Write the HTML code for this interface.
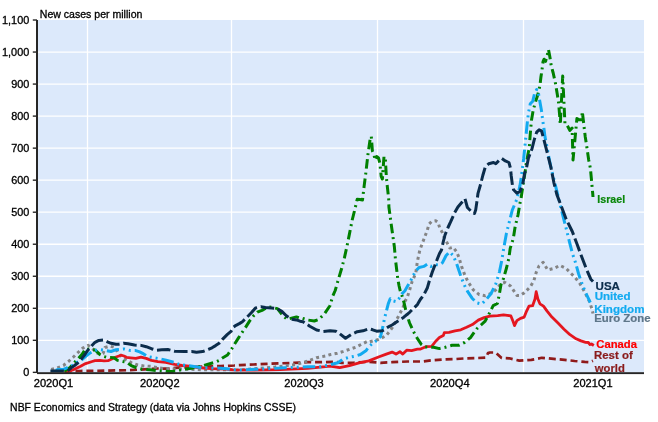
<!DOCTYPE html>
<html><head><meta charset="utf-8"><style>
html,body{margin:0;padding:0;background:#fff;}
svg{display:block;}
</style></head><body>
<svg width="658" height="422" viewBox="0 0 658 422">
<rect x="0" y="0" width="658" height="422" fill="#ffffff"/>
<rect x="38" y="20" width="606" height="352.5" fill="#dce9fb"/>
<g stroke="#ffffff" stroke-width="1.3"><line x1="38" y1="340.32" x2="644" y2="340.32"/><line x1="38" y1="308.29" x2="644" y2="308.29"/><line x1="38" y1="276.26" x2="644" y2="276.26"/><line x1="38" y1="244.23" x2="644" y2="244.23"/><line x1="38" y1="212.20" x2="644" y2="212.20"/><line x1="38" y1="180.17" x2="644" y2="180.17"/><line x1="38" y1="148.14" x2="644" y2="148.14"/><line x1="38" y1="116.11" x2="644" y2="116.11"/><line x1="38" y1="84.08" x2="644" y2="84.08"/><line x1="38" y1="52.05" x2="644" y2="52.05"/><line x1="87.5" y1="20" x2="87.5" y2="372"/><line x1="231.5" y1="20" x2="231.5" y2="372"/><line x1="377.5" y1="20" x2="377.5" y2="372"/><line x1="523.5" y1="20" x2="523.5" y2="372"/></g>
<g fill="none" stroke-linejoin="round">
<path d="M64.6 371.3 L80.0 371.0 L98.0 370.8 L128.0 370.2 L147.5 369.2 L157.9 368.5 L169.0 368.6 L180.7 367.4 L202.6 366.7 L220.8 366.1 L234.2 365.5 L240.0 365.1 L253.5 364.5 L267.0 363.8 L280.5 363.3 L294.0 362.9 L307.6 362.2 L321.0 362.2 L334.6 361.8 L341.7 362.8 L353.3 362.8 L368.8 361.8 L380.5 362.8 L392.1 362.2 L407.7 361.5 L422.9 361.5 L431.7 360.3 L443.3 359.5 L455.0 359.1 L466.6 358.3 L478.3 358.0 L486.0 357.6 L488.0 353.1 L489.9 352.5 L495.7 352.5 L501.6 358.0 L509.3 358.3 L516.1 359.9 L519.3 360.6 L531.4 359.9 L541.8 357.8 L547.0 358.2 L553.7 358.9 L564.6 359.8 L574.6 361.0 L584.7 361.9 L590.1 362.2 L592.9 360.8" stroke="#8f1a1a" stroke-width="2.7" stroke-dasharray="7 3.9"/>
<path d="M51.2 369.5 L57.3 367.9 L63.4 365.5 L68.3 361.6 L73.1 357.3 L78.0 352.5 L82.7 348.2 L88.2 345.3 L92.2 348.5 L97.4 353.2 L101.0 354.5 L103.1 353.5 L105.0 347.5 L110.0 346.1 L114.9 347.5 L117.8 352.7 L122.0 357.6 L131.9 363.0 L137.7 365.0 L143.6 365.9 L150.8 366.3 L157.3 367.6 L163.8 368.5 L175.0 369.0 L190.4 369.2 L202.6 369.8 L230.5 369.8 L240.0 370.0 L251.3 369.0 L275.0 367.0 L296.3 364.5 L307.6 361.1 L316.6 357.7 L325.6 356.0 L330.6 354.5 L337.3 353.2 L343.4 351.4 L349.5 349.3 L355.8 347.2 L361.9 344.1 L367.4 341.4 L368.8 342.0 L378.5 339.5 L386.3 335.6 L392.1 327.9 L397.0 319.1 L399.9 313.3 L402.8 308.4 L404.8 301.7 L407.3 297.2 L409.6 290.0 L412.0 281.8 L415.8 273.0 L417.4 261.4 L419.9 249.8 L422.4 243.2 L424.9 236.5 L427.4 229.9 L429.0 224.1 L431.5 221.6 L435.7 220.8 L438.1 222.4 L439.8 228.2 L442.3 232.4 L444.0 237.0 L446.4 241.5 L449.8 248.1 L453.1 247.3 L456.4 251.5 L458.9 257.3 L461.5 266.2 L465.0 275.7 L468.6 282.8 L473.3 289.9 L479.2 294.6 L485.2 295.8 L491.1 293.5 L495.8 289.9 L501.0 283.5 L505.0 282.5 L510.5 286.0 L516.9 295.4 L520.0 295.5 L524.2 292.9 L530.2 286.9 L533.8 280.9 L536.2 272.4 L539.0 266.0 L543.1 262.3 L547.7 270.0 L553.8 268.5 L560.0 265.4 L566.2 268.5 L570.0 272.4 L574.9 277.2 L579.7 283.3 L584.5 291.7 L589.4 301.4 L591.8 308.6 L593.0 313.5" stroke="#848484" stroke-width="3" stroke-dasharray="3 3.3"/>
<path d="M64.6 372.0 L66.1 371.6 L68.9 371.2 L72.8 370.0 L76.5 368.2 L80.6 366.2 L85.6 363.6 L92.2 361.5 L95.0 360.6 L99.8 360.4 L104.0 360.8 L108.0 360.7 L111.8 359.0 L116.1 357.0 L121.0 355.2 L124.0 356.0 L126.5 357.3 L130.6 357.8 L135.8 358.4 L141.0 357.1 L146.2 358.4 L151.4 360.4 L157.9 361.7 L165.8 362.3 L174.6 364.3 L181.9 365.5 L189.2 366.1 L196.5 367.4 L203.8 368.0 L211.1 368.6 L218.4 368.9 L225.7 369.2 L233.0 369.8 L250.0 370.2 L280.0 369.6 L307.6 368.3 L325.6 366.7 L330.0 366.1 L339.7 367.7 L349.4 365.7 L359.1 362.8 L368.8 360.9 L378.5 357.0 L386.3 354.1 L392.1 352.1 L396.0 354.1 L399.9 351.7 L402.8 354.1 L406.7 350.2 L411.6 350.6 L417.4 349.2 L420.0 349.2 L425.8 346.7 L431.7 346.3 L435.5 341.5 L439.4 337.6 L443.3 335.6 L444.3 332.7 L449.1 332.3 L455.0 330.8 L460.8 329.8 L466.6 327.3 L472.4 324.6 L478.3 320.1 L484.1 317.6 L489.9 316.2 L497.7 315.6 L503.5 314.9 L507.2 315.4 L510.9 315.9 L513.3 322.0 L514.5 325.6 L516.9 320.7 L520.5 318.3 L524.2 317.1 L526.6 311.1 L529.0 306.2 L532.6 305.7 L535.0 299.0 L536.2 291.7 L537.9 299.0 L539.9 303.8 L543.5 306.2 L547.1 311.1 L551.9 317.1 L558.0 323.1 L564.0 329.2 L570.0 334.7 L576.1 338.8 L581.0 340.9 L585.6 342.3 L588.3 342.5 L590.0 344.5 L591.5 344.0 L593.8 345.5" stroke="#e4161f" stroke-width="2.8"/>
<path d="M64.3 371.3 L70.0 367.5 L75.9 361.0 L78.3 358.5 L82.3 354.1 L85.6 348.6 L89.4 349.3 L95.0 349.9 L99.8 354.4 L103.6 356.5 L107.4 357.5 L114.0 357.7 L117.5 360.4 L121.5 361.3 L126.7 362.3 L131.2 365.6 L137.1 368.0 L142.3 369.2 L150.1 369.8 L159.2 370.8 L168.4 371.5 L172.2 371.6 L184.3 369.2 L191.6 368.2 L198.9 366.7 L203.8 365.5 L209.8 363.7 L215.9 361.9 L219.0 360.5 L222.0 358.2 L227.5 355.0 L231.0 350.0 L234.6 344.0 L238.2 338.4 L241.8 332.9 L245.4 327.6 L249.5 321.1 L253.7 315.7 L257.3 312.2 L262.0 310.4 L267.9 306.8 L272.0 307.4 L277.4 308.6 L282.1 314.5 L286.9 319.3 L291.6 318.1 L296.4 316.9 L300.0 318.1 L300.8 317.8 L307.6 320.0 L314.3 321.0 L318.8 319.4 L324.5 313.8 L330.1 305.5 L332.6 296.5 L335.2 290.5 L337.8 281.4 L341.7 268.3 L344.4 257.9 L347.0 246.1 L349.6 233.1 L352.2 220.0 L354.8 209.6 L357.2 199.3 L360.0 199.5 L362.5 200.0 L364.1 186.4 L365.8 173.1 L367.9 154.9 L369.9 140.8 L371.3 136.3 L372.4 151.0 L374.1 155.0 L375.0 160.0 L376.6 156.5 L378.5 158.0 L379.9 163.2 L381.2 176.4 L382.4 179.0 L384.0 156.5 L385.3 157.4 L386.3 176.0 L387.3 186.4 L388.7 199.0 L388.9 207.0 L391.3 225.0 L393.0 237.0 L394.4 247.0 L395.4 259.0 L396.6 269.0 L397.8 279.0 L399.1 286.0 L400.5 292.0 L401.8 295.0 L403.8 301.7 L406.7 314.3 L409.6 323.0 L413.5 331.7 L417.4 338.5 L421.3 344.4 L425.1 347.0 L433.6 347.3 L439.4 348.6 L445.2 347.3 L452.0 345.3 L458.8 345.3 L464.7 342.4 L470.5 337.6 L476.6 329.0 L481.0 325.0 L484.9 321.4 L488.2 315.6 L490.7 310.6 L493.2 305.6 L497.4 303.5 L499.2 295.0 L501.0 284.5 L503.5 278.5 L506.5 268.0 L508.9 258.0 L510.2 248.4 L513.3 238.5 L515.2 226.4 L518.0 215.0 L519.9 203.6 L521.1 198.0 L522.8 186.4 L524.4 176.4 L526.1 164.8 L527.8 155.0 L529.3 148.0 L529.8 140.0 L530.6 130.0 L531.5 120.0 L533.2 110.2 L535.6 101.5 L537.7 95.0 L539.9 85.8 L540.9 77.3 L542.0 69.9 L543.1 61.3 L544.1 59.2 L545.6 61.3 L547.3 54.9 L548.5 49.6 L549.9 57.0 L551.2 65.6 L553.2 73.0 L555.6 84.0 L557.2 93.7 L558.6 103.0 L559.6 115.0 L560.3 124.5 L562.7 76.0 L565.0 124.5 L567.4 125.7 L569.8 130.4 L572.1 128.0 L573.0 160.0 L576.9 118.6 L579.3 119.8 L581.6 119.8 L582.3 111.5 L585.2 136.4 L587.0 148.2 L588.7 160.0 L590.4 168.3 L591.3 178.0 L592.8 194.5 L593.0 197.0" stroke="#008000" stroke-width="3" stroke-dasharray="9.5 4 2 4"/>
<path d="M55.8 370.3 L57.6 369.5 L63.1 369.5 L66.8 367.8 L70.4 366.4 L73.5 365.0 L77.0 362.3 L81.7 359.9 L86.0 356.1 L90.2 352.9 L93.4 351.3 L97.2 349.7 L98.8 349.4 L105.5 350.4 L111.0 351.5 L116.2 349.7 L118.7 349.4 L124.0 348.9 L130.6 350.6 L135.8 350.6 L139.7 351.9 L143.6 353.9 L147.5 356.5 L155.3 358.0 L160.0 358.8 L166.1 360.1 L174.6 362.5 L180.7 364.9 L188.0 365.5 L194.0 366.5 L200.1 367.4 L206.2 367.7 L213.5 368.0 L220.8 368.2 L226.9 368.8 L233.0 369.8 L241.0 369.9 L262.5 369.0 L285.0 367.8 L307.6 366.7 L321.0 366.7 L330.0 364.8 L337.8 362.8 L342.8 359.3 L348.2 357.5 L354.3 356.3 L360.4 354.5 L365.9 350.8 L369.5 345.9 L376.6 340.5 L380.5 336.6 L382.4 328.8 L384.4 319.1 L386.3 311.4 L388.3 303.6 L390.2 298.7 L392.1 300.7 L396.0 301.7 L398.9 298.7 L401.8 293.9 L404.8 291.0 L407.3 286.5 L410.8 280.6 L413.2 275.8 L415.5 271.1 L419.1 267.5 L423.8 266.4 L427.4 264.0 L431.0 266.4 L434.5 264.5 L439.0 265.0 L442.5 262.7 L446.1 255.5 L449.6 252.0 L453.2 255.5 L456.7 263.8 L460.3 274.5 L463.8 284.0 L467.4 291.1 L472.1 298.2 L476.9 302.9 L481.6 304.1 L486.4 299.4 L491.1 293.5 L495.8 284.0 L499.4 272.1 L501.8 260.3 L504.1 246.1 L506.5 233.0 L509.2 222.3 L512.3 210.0 L516.9 199.2 L520.0 185.4 L521.3 177.2 L522.5 167.7 L523.7 158.2 L524.9 146.4 L526.1 134.5 L527.3 122.7 L528.4 113.2 L530.3 103.7 L532.7 101.3 L534.4 94.2 L536.7 89.5 L538.4 93.0 L539.8 101.3 L541.5 110.8 L542.7 120.3 L543.8 127.4 L545.0 136.9 L546.9 146.4 L548.6 155.8 L551.0 167.7 L555.4 185.4 L560.0 203.8 L563.0 216.2 L566.2 228.5 L569.2 240.8 L572.3 253.1 L575.4 262.3 L578.5 273.5 L581.0 281.0 L584.5 290.0 L587.0 295.5 L590.3 302.5" stroke="#12aaf0" stroke-width="3" stroke-dasharray="12.5 4 2 4 2 4"/>
<path d="M50.4 371.0 L64.6 371.0 L68.9 370.0 L71.6 367.4 L74.2 365.7 L78.0 362.7 L81.8 358.4 L84.9 354.5 L86.5 352.0 L88.1 349.9 L89.4 348.5 L92.2 345.2 L95.0 342.3 L98.8 340.4 L103.1 340.0 L107.4 341.8 L111.1 343.3 L115.9 344.2 L118.7 344.2 L123.5 343.3 L128.0 343.7 L134.5 345.0 L141.0 345.4 L146.2 346.7 L151.4 348.7 L156.6 350.2 L161.8 349.8 L168.4 349.6 L174.6 351.2 L184.3 351.6 L191.6 351.6 L196.5 352.2 L202.6 351.6 L208.4 349.4 L212.0 347.8 L215.6 345.6 L219.1 343.3 L222.7 339.1 L227.4 334.4 L231.0 331.4 L233.6 327.0 L236.0 325.3 L239.3 323.6 L242.4 321.7 L247.2 316.9 L251.3 312.8 L255.5 308.0 L260.8 306.8 L265.5 307.4 L271.5 308.0 L277.4 308.6 L282.1 311.6 L286.3 315.7 L291.6 319.3 L296.4 319.9 L300.0 321.2 L303.0 321.7 L309.8 326.2 L316.6 330.0 L323.3 331.4 L330.0 330.8 L335.8 331.2 L339.7 333.7 L345.5 338.2 L351.4 334.3 L357.2 331.7 L363.0 330.8 L368.8 328.8 L372.7 329.8 L376.6 331.2 L382.4 330.8 L388.3 326.9 L392.1 325.0 L398.0 321.1 L403.8 317.2 L409.6 312.3 L413.5 308.4 L417.4 304.6 L420.3 299.5 L423.8 294.8 L427.4 287.7 L429.9 279.0 L432.3 272.0 L434.8 265.5 L437.3 259.0 L439.5 253.5 L441.5 250.0 L443.2 242.0 L445.0 235.0 L448.0 227.5 L450.7 221.7 L454.5 213.0 L457.9 207.0 L461.5 202.8 L465.0 198.8 L467.4 207.5 L471.0 211.1 L474.5 213.5 L475.7 209.9 L476.9 201.6 L478.0 193.3 L480.4 185.0 L482.8 175.5 L485.2 167.3 L488.7 163.7 L493.5 162.5 L495.8 163.7 L499.4 160.1 L501.8 158.5 L505.3 160.9 L508.9 162.5 L510.5 168.4 L511.2 175.5 L512.4 185.0 L513.6 189.8 L516.9 193.1 L520.0 191.5 L523.1 182.3 L524.6 173.1 L526.1 170.0 L528.4 158.2 L532.0 148.7 L534.4 139.2 L536.7 132.1 L539.1 129.8 L541.5 130.9 L543.8 139.2 L546.2 148.7 L548.6 158.2 L551.0 167.7 L553.8 182.3 L556.9 194.6 L561.5 206.9 L566.2 219.2 L572.3 231.5 L576.9 243.8 L581.5 256.2 L586.2 268.5 L590.8 279.2 L593.0 281.5" stroke="#0b2c4b" stroke-width="3" stroke-dasharray="13.5 3.8"/>
</g>
<g stroke="#262626" stroke-width="1.4"><line x1="32.8" y1="372.35" x2="37" y2="372.35"/><line x1="32.8" y1="340.32" x2="37" y2="340.32"/><line x1="32.8" y1="308.29" x2="37" y2="308.29"/><line x1="32.8" y1="276.26" x2="37" y2="276.26"/><line x1="32.8" y1="244.23" x2="37" y2="244.23"/><line x1="32.8" y1="212.20" x2="37" y2="212.20"/><line x1="32.8" y1="180.17" x2="37" y2="180.17"/><line x1="32.8" y1="148.14" x2="37" y2="148.14"/><line x1="32.8" y1="116.11" x2="37" y2="116.11"/><line x1="32.8" y1="84.08" x2="37" y2="84.08"/><line x1="32.8" y1="52.05" x2="37" y2="52.05"/><line x1="32.8" y1="20.02" x2="37" y2="20.02"/></g>
<rect x="36" y="20" width="2" height="353" fill="#262626"/>
<rect x="37" y="372.2" width="607" height="1.9" fill="#262626"/>
<g font-family="'Liberation Sans', Arial, sans-serif" font-size="10.9" fill="#000" stroke="#000" stroke-width="0.3" text-anchor="end"><text x="29.3" y="376.15">0</text><text x="29.3" y="344.12">100</text><text x="29.3" y="312.09">200</text><text x="29.3" y="280.06">300</text><text x="29.3" y="248.03">400</text><text x="29.3" y="216.00">500</text><text x="29.3" y="183.97">600</text><text x="29.3" y="151.94">700</text><text x="29.3" y="119.91">800</text><text x="29.3" y="87.88">900</text><text x="29.3" y="55.85">1,000</text><text x="29.3" y="23.82">1,100</text></g>
<g font-family="'Liberation Sans', Arial, sans-serif"><text x="39.81" y="17.70" font-size="10.48" stroke="#000" stroke-width="0.3" fill="#000" textLength="102.60" lengthAdjust="spacingAndGlyphs">New cases per million</text><text x="10.12" y="410.90" font-size="10.69" stroke="#000" stroke-width="0.3" fill="#000" textLength="285.82" lengthAdjust="spacingAndGlyphs">NBF Economics and Strategy (data via Johns Hopkins CSSE)</text><text x="33.78" y="386.60" font-size="10.46" stroke="#000" stroke-width="0.3" fill="#000" textLength="39.50" lengthAdjust="spacingAndGlyphs">2020Q1</text><text x="140.08" y="386.60" font-size="10.46" stroke="#000" stroke-width="0.3" fill="#000" textLength="39.50" lengthAdjust="spacingAndGlyphs">2020Q2</text><text x="284.38" y="386.60" font-size="10.46" stroke="#000" stroke-width="0.3" fill="#000" textLength="39.29" lengthAdjust="spacingAndGlyphs">2020Q3</text><text x="430.08" y="386.60" font-size="10.46" stroke="#000" stroke-width="0.3" fill="#000" textLength="39.50" lengthAdjust="spacingAndGlyphs">2020Q4</text><text x="573.28" y="386.60" font-size="10.46" stroke="#000" stroke-width="0.3" fill="#000" textLength="39.29" lengthAdjust="spacingAndGlyphs">2021Q1</text><text x="597.34" y="202.90" font-size="10.80" font-weight="bold" stroke="#0a870a" stroke-width="0.2" fill="#0a870a" textLength="27.77" lengthAdjust="spacingAndGlyphs">Israel</text><text x="595.55" y="289.70" font-size="10.80" font-weight="bold" stroke="#0b2c4b" stroke-width="0.2" fill="#0b2c4b" textLength="24.42" lengthAdjust="spacingAndGlyphs">USA</text><text x="594.65" y="299.75" font-size="10.80" font-weight="bold" stroke="#12aaf0" stroke-width="0.2" fill="#12aaf0" textLength="35.99" lengthAdjust="spacingAndGlyphs">United</text><text x="594.27" y="312.80" font-size="10.80" font-weight="bold" stroke="#12aaf0" stroke-width="0.2" fill="#12aaf0" textLength="50.26" lengthAdjust="spacingAndGlyphs">Kingdom</text><text x="594.29" y="321.90" font-size="10.80" font-weight="bold" stroke="#5e7689" stroke-width="0.2" fill="#5e7689" textLength="56.27" lengthAdjust="spacingAndGlyphs">Euro Zone</text><text x="596.26" y="347.50" font-size="10.80" font-weight="bold" stroke="#ff0000" stroke-width="0.2" fill="#ff0000" textLength="40.67" lengthAdjust="spacingAndGlyphs">Canada</text><text x="593.98" y="358.70" font-size="10.80" font-weight="bold" stroke="#8a1c1c" stroke-width="0.2" fill="#8a1c1c" textLength="38.72" lengthAdjust="spacingAndGlyphs">Rest of</text><text x="594.80" y="371.90" font-size="10.80" font-weight="bold" stroke="#8a1c1c" stroke-width="0.2" fill="#8a1c1c" textLength="30.00" lengthAdjust="spacingAndGlyphs">world</text></g>
</svg>
</body></html>
